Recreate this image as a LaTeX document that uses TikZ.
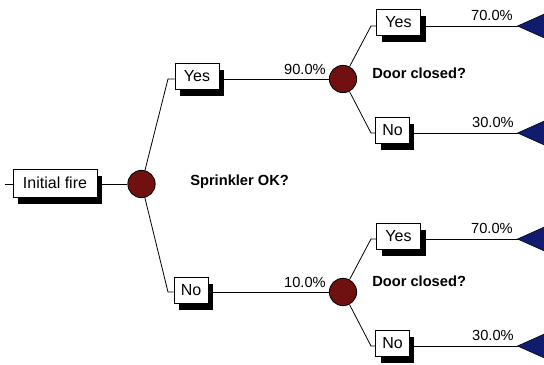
\documentclass[tikz,border=0pt]{standalone}
\usepackage{fontspec}
\setmainfont{Liberation Sans}
\usetikzlibrary{shadows}
\definecolor{chancered}{RGB}{112,16,16}
\definecolor{endblue}{RGB}{18,28,110}
\begin{document}
\begin{tikzpicture}[x=0.75pt,y=-0.75pt,
  lbl/.style={draw=black, line width=0.6pt, fill=white, font=\fontsize{12}{14}\selectfont,
    inner xsep=0pt, inner ysep=0pt, minimum height=19.5pt,
    drop shadow={shadow xshift=3.75pt, shadow yshift=-5pt, fill=black, opacity=1}},
  chance/.style={circle, draw=black, line width=0.6pt, fill=chancered, minimum size=20.5pt, inner sep=0pt},
  pct/.style={font=\fontsize{11}{13}\selectfont, anchor=base east, inner sep=0pt},
  qlbl/.style={font=\bfseries\fontsize{11}{13}\selectfont, anchor=west, inner sep=0pt},
  edge/.style={line width=0.6pt},
  term/.style={fill=endblue, draw=black, line width=0.4pt}]
\useasboundingbox (0,0) rectangle (544,365);
\begin{scope}
\clip (0,0) rectangle (544,365);
% nodes
\coordinate (s0) at (5,184);
\node[lbl, minimum width=63pt, minimum height=21pt] (init) at (55,183) {Initial fire};
\node[chance] (c0) at (141.5,184) {};
\coordinate (b1) at (168,79);
\coordinate (b2) at (168,292);
\node[lbl, minimum width=33pt] (yes1) at (197,76.5) {Yes};
\node[lbl, minimum width=25.5pt] (no1) at (191,290) {No};
\node[chance] (c1) at (343,79) {};
\node[chance] (c2) at (343,292) {};
\coordinate (b11) at (371,26);
\coordinate (b12) at (371,133);
\coordinate (b21) at (371,239);
\coordinate (b22) at (371,346);
\node[lbl, minimum width=33pt] (yes2) at (398.5,22.5) {Yes};
\node[lbl, minimum width=25pt] (no2) at (392.5,130.5) {No};
\node[lbl, minimum width=33pt] (yes3) at (398.5,236) {Yes};
\node[lbl, minimum width=25pt] (no3) at (392.5,343.5) {No};
\coordinate (e1) at (517.5,26);
\coordinate (e2) at (517.5,133);
\coordinate (e3) at (517.5,239);
\coordinate (e4) at (517.5,346);
% connectors
\draw[edge] (s0) -- (init.west |- s0);
\draw[edge] (init.east |- c0) -- (c0);
\draw[edge] (c0) -- (b1) -- (yes1.west |- b1);
\draw[edge] (c0) -- (b2) -- (no1.west |- b2);
\draw[edge] (yes1.east |- b1) -- (c1);
\draw[edge] (no1.east |- b2) -- (c2);
\draw[edge] (c1) -- (b11) -- (yes2.west |- b11);
\draw[edge] (c1) -- (b12) -- (no2.west |- b12);
\draw[edge] (c2) -- (b21) -- (yes3.west |- b21);
\draw[edge] (c2) -- (b22) -- (no3.west |- b22);
\draw[edge] (yes2.east |- e1) -- (e1);
\draw[edge] (no2.east |- e2) -- (e2);
\draw[edge] (yes3.east |- e3) -- (e3);
\draw[edge] (no3.east |- e4) -- (e4);
% terminal triangles
\draw[term] (e1) -- ++(42.5,-19) -- ++(0,38) -- cycle;
\draw[term] (e2) -- ++(42.5,-19) -- ++(0,38) -- cycle;
\draw[term] (e3) -- ++(42.5,-19) -- ++(0,38) -- cycle;
\draw[term] (e4) -- ++(42.5,-19) -- ++(0,38) -- cycle;
% labels
\node[pct] (p1) at (326,74) {90.0\%};
\node[pct] (p2) at (326,287) {10.0\%};
\node[pct] (p11) at (513,20) {70.0\%};
\node[pct] (p12) at (514,127) {30.0\%};
\node[pct] (p21) at (513,233) {70.0\%};
\node[pct] (p22) at (514,340) {30.0\%};
\node[qlbl] (q0) at (190,182) {Sprinkler OK?};
\node[qlbl] (q1) at (372,73) {Door closed?};
\node[qlbl] (q2) at (372,281) {Door closed?};
\end{scope}
\end{tikzpicture}
\end{document}
